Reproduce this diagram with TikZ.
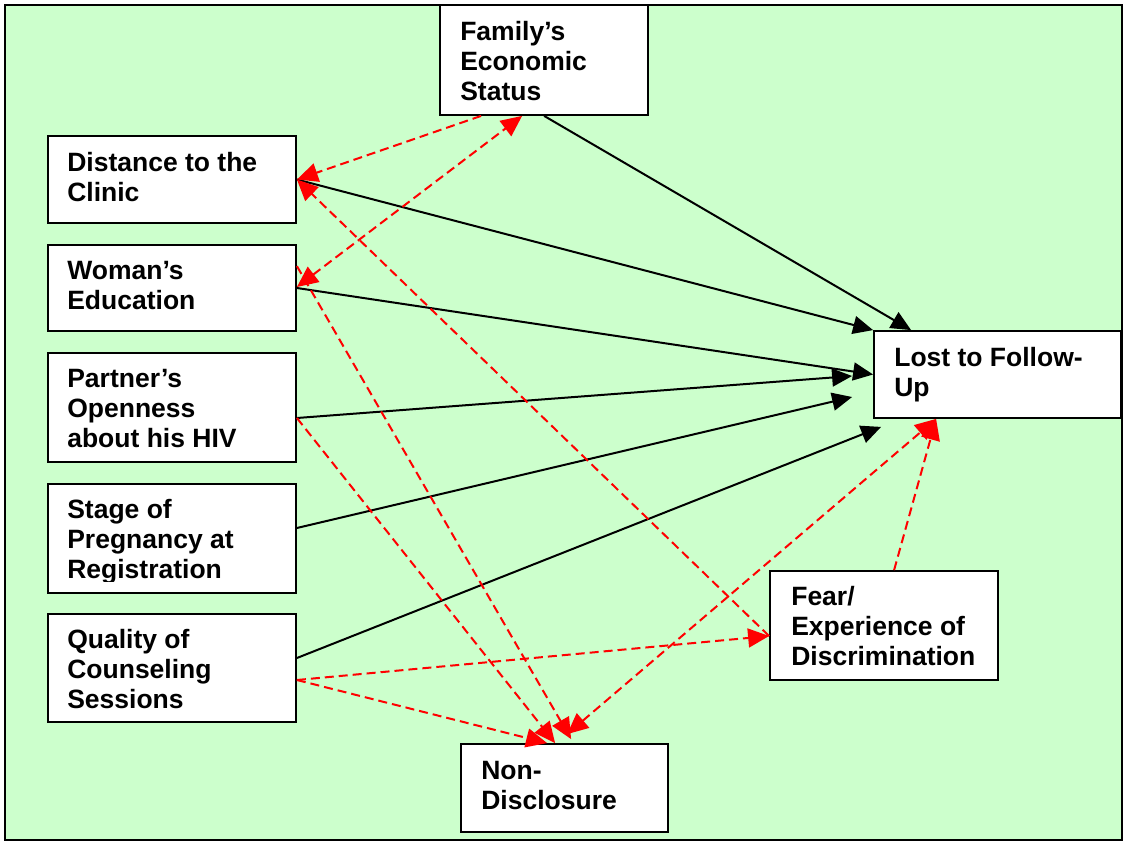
\documentclass[tikz,border=0pt]{standalone}
\usepackage{fontspec}
\setmainfont{Liberation Sans}
\usetikzlibrary{arrows.meta,fit}
\definecolor{bggreen}{RGB}{204,255,204}
\definecolor{linkred}{RGB}{255,0,0}
\begin{document}
\begin{tikzpicture}[x=1pt,y=-1pt,
  box/.style={draw=black, fill=white, line width=1.8pt, inner sep=0pt},
  txt/.style={inner sep=0pt, anchor=base west, font=\bfseries\fontsize{26.5}{30}\selectfont},
  causal/.style={draw=black, line width=2pt, -{Triangle[length=20pt,width=18pt]}},
  assoc/.style={draw=linkred, line width=2pt, dash pattern=on 9pt off 5pt, -{Triangle[length=21pt,width=19pt]}},
  assocboth/.style={assoc, {Triangle[length=21pt,width=19pt]}-{Triangle[length=21pt,width=19pt]}}]
\useasboundingbox (0,0) rectangle (1127,846);
\fill[white] (0,0) rectangle (1127,846);
\draw[fill=bggreen, line width=1.8pt] (5,5) rectangle (1122,840);

% boxes
\node[box, fit={(440,5)(648,115)}] (fam) {};
\node[box, fit={(48,136)(296,223)}] (dist) {};
\node[box, fit={(48,245)(296,331)}] (wom) {};
\node[box, fit={(48,353)(296,462)}] (part) {};
\node[box, fit={(48,484)(296,593)}] (stage) {};
\node[box, fit={(48,614)(296,722)}] (qual) {};
\node[box, fit={(874,331)(1121,418)}] (lost) {};
\node[box, fit={(770,571)(998,680)}] (fear) {};
\node[box, fit={(461,744)(668,832)}] (nd) {};

% texts
\node[txt] (famt) at ([xshift=21pt,yshift=-36pt]fam.north west) {\parbox[t]{200pt}{\raggedright Family’s\\Economic\\Status}};
\node[txt] (distt) at ([xshift=20pt,yshift=-36pt]dist.north west) {\parbox[t]{230pt}{\raggedright Distance to the\\Clinic}};
\node[txt] (womt) at ([xshift=20pt,yshift=-35pt]wom.north west) {\parbox[t]{230pt}{\raggedright Woman’s\\Education}};
\node[txt] (partt) at ([xshift=20pt,yshift=-35pt]part.north west) {\parbox[t]{230pt}{\raggedright Partner’s\\Openness\\about his HIV}};
\begin{scope}
\clip (48,484) rectangle (296,581);
\node[txt] (staget) at ([xshift=20pt,yshift=-35pt]stage.north west) {\parbox[t]{230pt}{\raggedright Stage of\\Pregnancy at\\Registration}};
\end{scope}
\node[txt] (qualt) at ([xshift=20pt,yshift=-35pt]qual.north west) {\parbox[t]{230pt}{\raggedright Quality of\\Counseling\\Sessions}};
\node[txt] (lostt) at ([xshift=21pt,yshift=-36pt]lost.north west) {\parbox[t]{230pt}{\raggedright Lost to Follow-\\Up}};
\node[txt] (feart) at ([xshift=22pt,yshift=-35pt]fear.north west) {\parbox[t]{210pt}{\raggedright Fear/\\Experience of\\Discrimination}};
\node[txt] (ndt) at ([xshift=21pt,yshift=-36pt]nd.north west) {\parbox[t]{200pt}{\raggedright Non-\\Disclosure}};

% causal (black) links
\draw[causal] ([xshift=105pt]fam.south west) -- ([xshift=38pt]lost.north west);
\draw[causal] (dist.east) -- (lost.north west);
\draw[causal] (wom.east) -- (lost.west);
\draw[causal] ([yshift=-10.5pt]part.east) -- ([xshift=-21pt,yshift=-1.5pt]lost.west);
\draw[causal] ([yshift=10.5pt]stage.east) -- ([xshift=-21pt,yshift=-22.5pt]lost.west);
\draw[causal] ([yshift=10pt]qual.east) -- ([xshift=8pt,yshift=-8pt]lost.south west);

% associations (red dashed)
\draw[assoc] ([xshift=42pt]fam.south west) -- (dist.east);
\draw[assocboth] ([yshift=1pt]wom.east) -- ([xshift=83pt]fam.south west);
\draw[assoc] ([yshift=-10.5pt]fear.west) -- (dist.east);
\draw[assoc] ([yshift=-22pt]wom.north east) -- ([xshift=111pt,yshift=4pt]nd.north west);
\draw[assoc] ([yshift=-10.5pt]part.east) -- ([xshift=95pt]nd.north west);
\draw[assoc] ([yshift=-12pt]qual.east) -- ([yshift=-10.5pt]fear.west);
\draw[assoc] ([yshift=-12pt]qual.east) -- ([xshift=87pt]nd.north west);
\draw[assocboth] ([xshift=107pt,yshift=9pt]nd.north west) -- ([xshift=63pt]lost.south west);
\draw[assoc] ([xshift=125pt]fear.north west) -- ([xshift=63pt]lost.south west);
\end{tikzpicture}
\end{document}
